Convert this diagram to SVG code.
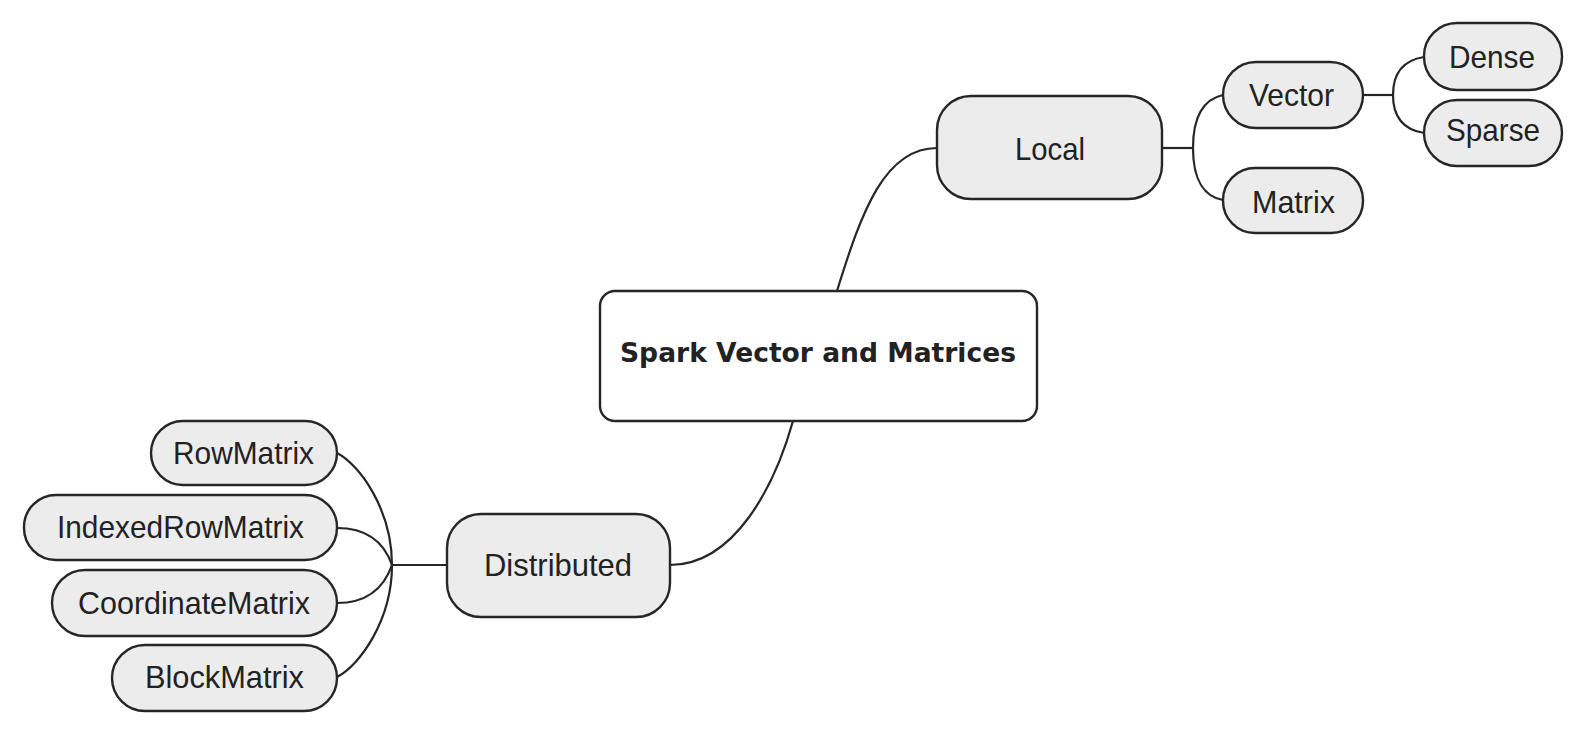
<svg xmlns="http://www.w3.org/2000/svg" width="1586" height="735" viewBox="0 0 1586 735">
<style>
.node rect{fill:#ececec;stroke:#262626;stroke-width:2.4}
.root rect{fill:#ffffff;stroke:#262626;stroke-width:2.4}
.lbl{font-family:"Liberation Sans",Arial,sans-serif;font-size:32px;fill:#222}
.title{font-family:"DejaVu Sans","Liberation Sans",sans-serif;font-weight:bold;font-size:27px;fill:#222}
#connectors path{fill:none;stroke:#262626;stroke-width:2.2}
</style>
<rect width="1586" height="735" fill="#ffffff"/>
<g id="connectors">
<path d="M837,291 C862,210 885,148 937,148"/>
<path d="M793,421 C775,485 735,565 670,565"/>
<path d="M1162,148 H1193"/>
<path d="M1193,148 C1193,115 1205,99 1223,95"/>
<path d="M1193,148 C1193,181 1205,197 1223,200"/>
<path d="M1363,95 H1393"/>
<path d="M1393,95 C1393,72 1405,60 1424,57"/>
<path d="M1393,95 C1393,118 1405,130 1424,133"/>
<path d="M447,565 H392"/>
<path d="M392,565 C392,510 360,465 337,453"/>
<path d="M392,565 C385,545 370,528 337,528"/>
<path d="M392,565 C385,585 370,603 337,603"/>
<path d="M392,565 C392,620 360,665 337,677"/>
</g>
<g id="root" class="root">
<rect x="600" y="291" width="437" height="130" rx="15"/>
<text class="title" x="620" y="362" textLength="396" lengthAdjust="spacingAndGlyphs">Spark Vector and Matrices</text>
</g>
<g id="local" class="node">
<rect x="937" y="96" width="225" height="103" rx="34"/>
<text class="lbl" x="1015" y="160" textLength="70" lengthAdjust="spacingAndGlyphs">Local</text>
</g>
<g id="vector" class="node">
<rect x="1223" y="62" width="140" height="66" rx="33"/>
<text class="lbl" x="1249" y="106" textLength="85" lengthAdjust="spacingAndGlyphs">Vector</text>
</g>
<g id="matrix" class="node">
<rect x="1223" y="168" width="140" height="65" rx="32"/>
<text class="lbl" x="1252" y="213" textLength="83" lengthAdjust="spacingAndGlyphs">Matrix</text>
</g>
<g id="dense" class="node">
<rect x="1424" y="23" width="138" height="67" rx="33"/>
<text class="lbl" x="1449" y="68" textLength="86" lengthAdjust="spacingAndGlyphs">Dense</text>
</g>
<g id="sparse" class="node">
<rect x="1424" y="100" width="138" height="66" rx="33"/>
<text class="lbl" x="1446" y="141" textLength="94" lengthAdjust="spacingAndGlyphs">Sparse</text>
</g>
<g id="distributed" class="node">
<rect x="447" y="514" width="223" height="103" rx="34"/>
<text class="lbl" x="484" y="576" textLength="148" lengthAdjust="spacingAndGlyphs">Distributed</text>
</g>
<g id="rowmatrix" class="node">
<rect x="151" y="421" width="186" height="64" rx="32"/>
<text class="lbl" x="173" y="464" textLength="141" lengthAdjust="spacingAndGlyphs">RowMatrix</text>
</g>
<g id="indexedrowmatrix" class="node">
<rect x="24" y="495" width="313" height="65" rx="32"/>
<text class="lbl" x="57" y="538" textLength="247" lengthAdjust="spacingAndGlyphs">IndexedRowMatrix</text>
</g>
<g id="coordinatematrix" class="node">
<rect x="52" y="570" width="285" height="66" rx="33"/>
<text class="lbl" x="78" y="614" textLength="232" lengthAdjust="spacingAndGlyphs">CoordinateMatrix</text>
</g>
<g id="blockmatrix" class="node">
<rect x="112" y="645" width="225" height="66" rx="33"/>
<text class="lbl" x="145" y="688" textLength="159" lengthAdjust="spacingAndGlyphs">BlockMatrix</text>
</g>
</svg>
